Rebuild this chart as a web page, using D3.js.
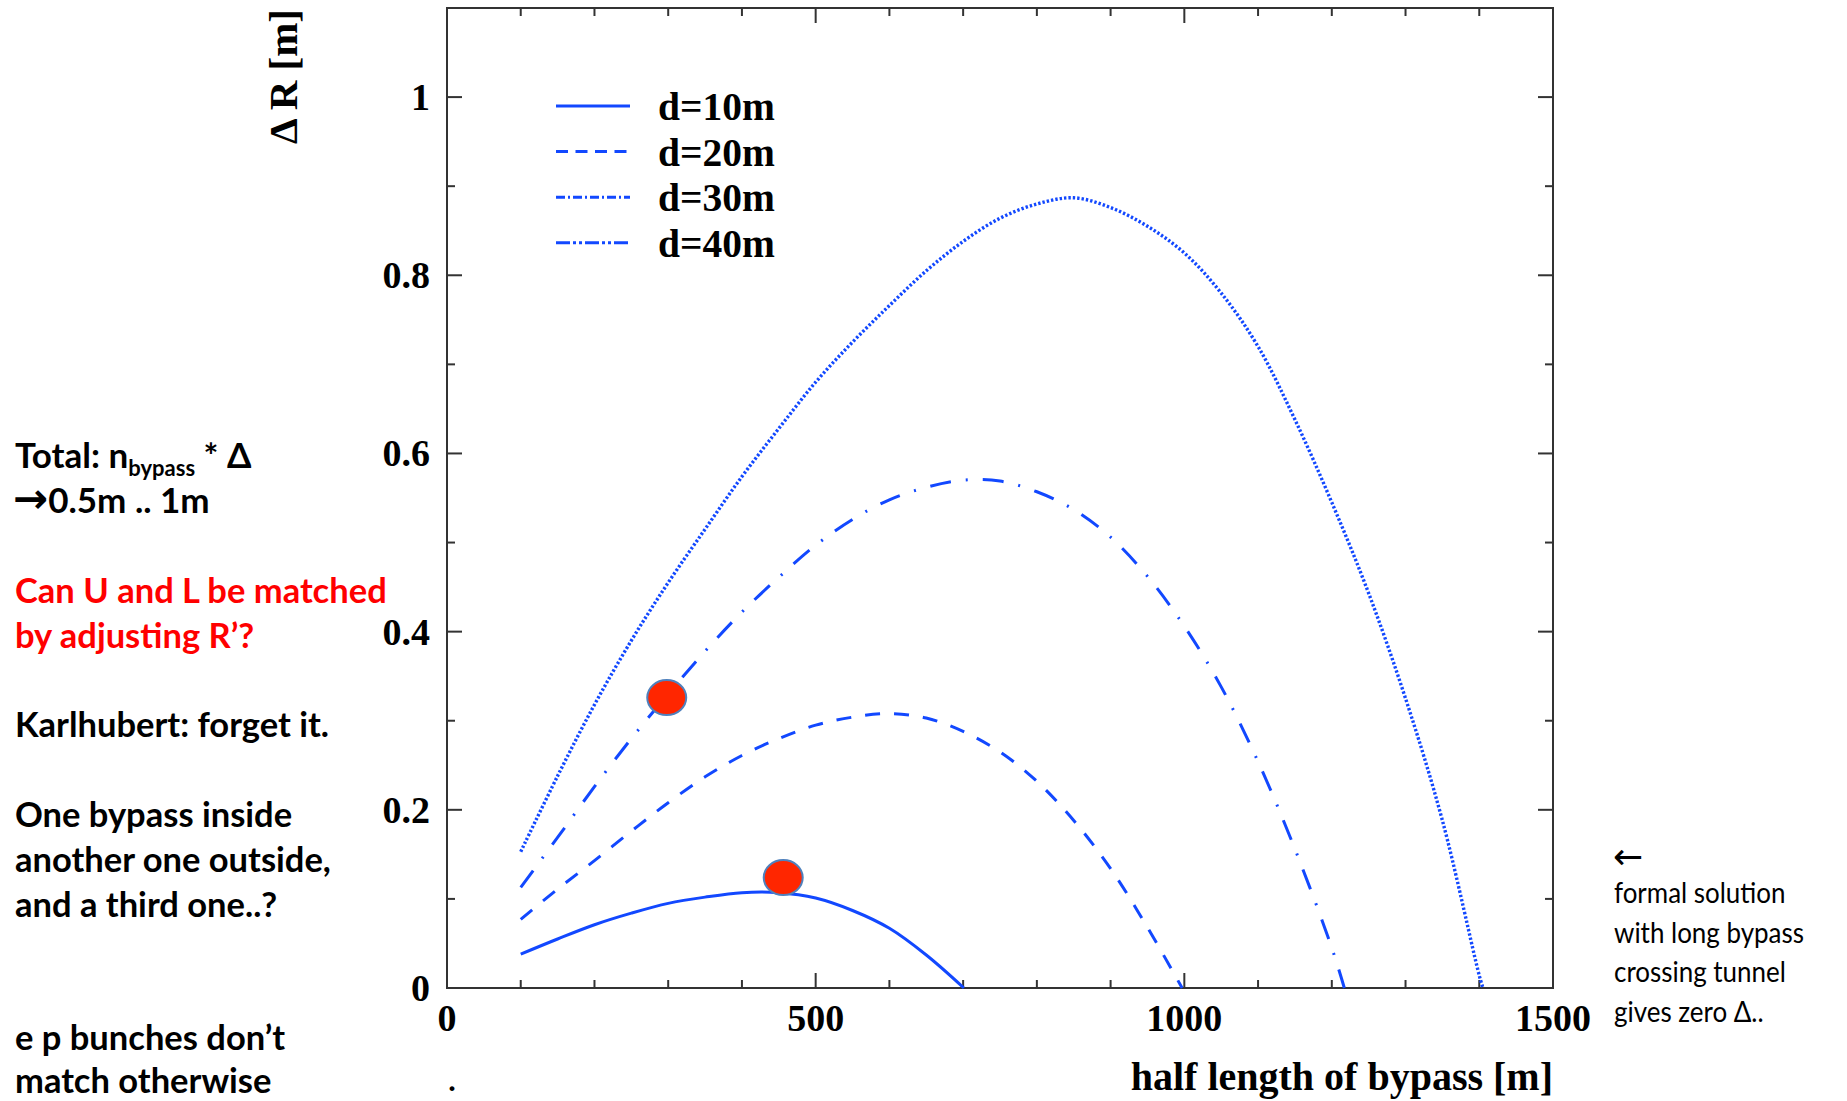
<!DOCTYPE html>
<html>
<head>
<meta charset="utf-8">
<script src="https://cdn.jsdelivr.net/npm/d3@7"></script>
<style>
    html, body { margin: 0; padding: 0; background: #fff; }
    svg { display: block; }
    .serif { font-family: "Liberation Serif", "Times New Roman", serif; font-weight: bold; }
    .note { font-family: Lato, "Open Sans", sans-serif; }
</style>
</head>
<body>
<div class="chart"></div>
<script>
/* Delta R vs half length of bypass */

// x values are half length [m], y values are Delta R [m]
var seriesNames = ["d=10m", "d=20m", "d=30m", "d=40m"];

var d10 = [[100, 0.038], [150, 0.055], [200, 0.071], [250, 0.084], [300, 0.095], [350, 0.102],
    [400, 0.107], [450, 0.107], [500, 0.101], [550, 0.087], [600, 0.067], [650, 0.037], [701, 0]];

var d20 = [[100, 0.077], [150, 0.111], [200, 0.143], [250, 0.176], [300, 0.208], [350, 0.237],
    [400, 0.261], [450, 0.280], [500, 0.295], [550, 0.304], [600, 0.308], [650, 0.303],
    [700, 0.288], [750, 0.265], [800, 0.232], [850, 0.188], [900, 0.134], [950, 0.068], [997, 0]];

var d30 = [[100, 0.113], [150, 0.169], [200, 0.226], [250, 0.280], [300, 0.330], [350, 0.378],
    [400, 0.422], [450, 0.461], [500, 0.497], [550, 0.526], [600, 0.548], [650, 0.562],
    [700, 0.570], [750, 0.569], [800, 0.557], [850, 0.537], [900, 0.506], [950, 0.462],
    [1000, 0.406], [1050, 0.338], [1100, 0.254], [1150, 0.156], [1200, 0.045], [1217, 0]];

var d40 = [[100, 0.153], [150, 0.238], [200, 0.318], [250, 0.390], [300, 0.455], [350, 0.515],
    [400, 0.574], [450, 0.628], [500, 0.680], [550, 0.725], [600, 0.766], [650, 0.805],
    [700, 0.838], [750, 0.864], [800, 0.880], [850, 0.887], [900, 0.876], [950, 0.855],
    [1000, 0.825], [1050, 0.780], [1100, 0.720], [1150, 0.638], [1200, 0.545], [1250, 0.443],
    [1300, 0.325], [1350, 0.188], [1400, 0.014], [1405, 0]];

// red marks placed on the plot
var markers = [[298, 0.326], [456, 0.124]];

var xTickValues = [0, 500, 1000, 1500];
var yTickValues = [0, 0.2, 0.4, 0.6, 0.8, 1];

var leftNotes = [
    { text: "Can U and L be matched", y: 603, color: "#ff0000" },
    { text: "by adjusting R’?", y: 648, color: "#ff0000" },
    { text: "Karlhubert: forget it.", y: 737, color: "#000" },
    { text: "One bypass inside", y: 827, color: "#000" },
    { text: "another one outside,", y: 872, color: "#000" },
    { text: "and a third one..?", y: 917, color: "#000" },
    { text: "e p bunches don’t", y: 1050, color: "#000" },
    { text: "match otherwise", y: 1093, color: "#000" }
];
var rightNotes = ["formal solution", "with long bypass", "crossing tunnel", "gives zero Δ.."];

var lineColor = "#1248ff";
var dashes = [null, "15,14", "21,15,2,15", "2.4,2"];
var legendDashes = [null, "12,7.5", "9,3,2,3", "14,3,3,3,3,3"];

var W = 1847, H = 1101;

var svg = d3.select(".chart").append("svg")
    .attr("width", W)
    .attr("height", H);

var x = d3.scaleLinear().domain([0, 1500]).range([447, 1553]);
var y = d3.scaleLinear().domain([0, 1.1]).range([988, 8]);

// frame
svg.append("rect")
    .attr("x", x(0)).attr("y", y(1.1))
    .attr("width", x(1500) - x(0)).attr("height", y(0) - y(1.1))
    .attr("fill", "none").attr("stroke", "#333").attr("stroke-width", 2);

// ticks, pointing inward on all four sides
var xMinor = d3.range(0, 1501, 100);
var yMinor = d3.range(0, 1.101, 0.1);
function isMajorX(v) { return v % 500 === 0; }
function isMajorY(v) { return Math.abs(v * 5 - Math.round(v * 5)) < 1e-6; }

var ticks = svg.append("g").attr("stroke", "#333").attr("stroke-width", 2);
xMinor.forEach(function (v) {
    var len = isMajorX(v) ? 15 : 8;
    ticks.append("line").attr("x1", x(v)).attr("x2", x(v)).attr("y1", y(0)).attr("y2", y(0) - len);
    ticks.append("line").attr("x1", x(v)).attr("x2", x(v)).attr("y1", y(1.1)).attr("y2", y(1.1) + len);
});
yMinor.forEach(function (v) {
    var len = isMajorY(v) ? 15 : 8;
    ticks.append("line").attr("x1", x(0)).attr("x2", x(0) + len).attr("y1", y(v)).attr("y2", y(v));
    ticks.append("line").attr("x1", x(1500)).attr("x2", x(1500) - len).attr("y1", y(v)).attr("y2", y(v));
});

// tick labels
svg.append("g").selectAll("text")
    .data(xTickValues)
    .enter()
    .append("text")
    .attr("class", "serif")
    .attr("x", function (d) { return x(d); })
    .attr("y", 1031)
    .attr("text-anchor", "middle")
    .attr("font-size", 38)
    .text(function (d) { return d; });

svg.append("g").selectAll("text")
    .data(yTickValues)
    .enter()
    .append("text")
    .attr("class", "serif")
    .attr("x", 430)
    .attr("y", function (d) { return y(d) + 13; })
    .attr("text-anchor", "end")
    .attr("font-size", 38)
    .text(function (d) { return d; });

// axis titles
svg.append("text")
    .attr("class", "serif")
    .attr("transform", "translate(297,9) rotate(-90)")
    .attr("text-anchor", "end")
    .attr("font-size", 41)
    .text("Δ R [m]");

svg.append("text")
    .attr("class", "serif")
    .attr("x", 1553)
    .attr("y", 1090)
    .attr("text-anchor", "end")
    .attr("font-size", 40)
    .text("half length of bypass [m]");

svg.append("text")
    .attr("class", "serif")
    .attr("x", 452)
    .attr("y", 1091)
    .attr("text-anchor", "middle")
    .attr("font-size", 30)
    .text(".");

// curves
var line = d3.line()
    .x(function (d) { return x(d[0]); })
    .y(function (d) { return y(d[1]); })
    .curve(d3.curveCatmullRom.alpha(0.5));

var allSeries = [d10, d20, d30, d40];
svg.append("g").selectAll("path")
    .data(allSeries)
    .enter()
    .append("path")
    .attr("d", line)
    .attr("fill", "none")
    .attr("stroke", lineColor)
    .attr("stroke-width", function (d, i) { return i === 3 ? 3.4 : 3; })
    .attr("stroke-dasharray", function (d, i) { return dashes[i]; });

// legend
var legend = svg.append("g");
seriesNames.forEach(function (name, i) {
    var ly = 106 + i * 45.6;
    legend.append("line")
        .attr("x1", 556).attr("x2", 630)
        .attr("y1", ly).attr("y2", ly)
        .attr("stroke", lineColor)
        .attr("stroke-width", 3)
        .attr("stroke-dasharray", legendDashes[i]);
    legend.append("text")
        .attr("class", "serif")
        .attr("x", 658)
        .attr("y", ly + 14)
        .attr("font-size", 39.5)
        .text(name);
});

// red marks
svg.append("g").selectAll("ellipse")
    .data(markers)
    .enter()
    .append("ellipse")
    .attr("cx", function (d) { return x(d[0]); })
    .attr("cy", function (d) { return y(d[1]); })
    .attr("rx", 19.5)
    .attr("ry", 17.5)
    .attr("fill", "#ff2600")
    .attr("stroke", "#4f81bd")
    .attr("stroke-width", 2);

// notes on the left
var total = svg.append("text")
    .attr("class", "note")
    .attr("x", 15).attr("y", 468)
    .attr("font-size", 35)
    .attr("font-weight", "bold");
total.append("tspan").text("Total: n");
total.append("tspan").attr("dy", 8).attr("font-size", 22).text("bypass");
total.append("tspan").attr("dy", -8).text(" * Δ");

var arrowLine = svg.append("text")
    .attr("class", "note")
    .attr("x", 13).attr("y", 513)
    .attr("font-size", 35)
    .attr("font-weight", "bold");
arrowLine.append("tspan").attr("font-family", "DejaVu Sans").attr("font-size", 42).text("→");
arrowLine.append("tspan").text("0.5m .. 1m");

svg.append("g").selectAll("text")
    .data(leftNotes)
    .enter()
    .append("text")
    .attr("class", "note")
    .attr("x", 15)
    .attr("y", function (d) { return d.y; })
    .attr("font-size", 34.5)
    .attr("font-weight", "bold")
    .attr("fill", function (d) { return d.color; })
    .text(function (d) { return d.text; });

// notes on the right, Calibri-like width by squeezing horizontally
svg.append("text")
    .attr("x", 1613).attr("y", 869)
    .attr("font-family", "DejaVu Sans")
    .attr("font-size", 36)
    .text("←");

svg.append("g")
    .attr("transform", "translate(1614,0) scale(0.88,1)")
    .selectAll("text")
    .data(rightNotes)
    .enter()
    .append("text")
    .attr("class", "note")
    .attr("x", 0)
    .attr("y", function (d, i) { return 903 + i * 39.7; })
    .attr("font-size", 29.5)
    .text(function (d) { return d; });
</script>
</body>
</html>
